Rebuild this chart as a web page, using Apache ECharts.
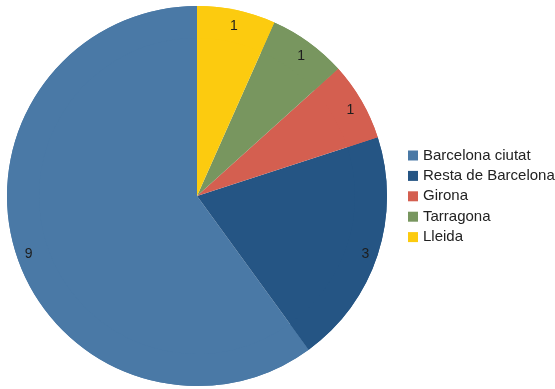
<!DOCTYPE html>
<html>
<head>
<meta charset="utf-8">
<script src="https://cdn.jsdelivr.net/npm/echarts@6/dist/echarts.min.js"></script>
<style>
  html, body { margin: 0; padding: 0; background: #ffffff; }
  #chart { width: 555px; height: 389px; }
</style>
</head>
<body>
<div id="chart"></div>
<script>
// Province categories and their counts
const categories = ['Barcelona ciutat', 'Resta de Barcelona', 'Girona', 'Tarragona', 'Lleida'];
const values = [9, 3, 1, 1, 1];
const colors = ['#4a79a6', '#255584', '#d45f50', '#78965f', '#fccb0f'];

const pieData = categories.map((name, i) => ({
  name: name,
  value: values[i],
  itemStyle: { color: colors[i] }
}));

const chart = echarts.init(document.getElementById('chart'), null, { renderer: 'canvas' });

const center = [197, 196];
const radius = 190;

chart.setOption({
  animation: false,
  backgroundColor: '#ffffff',
  textStyle: { fontFamily: '"Liberation Sans", Arial, sans-serif' },
  legend: {
    orient: 'vertical',
    left: 408,
    top: 147,
    padding: 0,
    itemWidth: 10,
    itemHeight: 10,
    itemGap: 3.4,
    icon: 'rect',
    data: categories,
    textStyle: {
      fontSize: 15,
      lineHeight: 17,
      color: '#222222',
      fontFamily: '"Liberation Sans", Arial, sans-serif'
    }
  },
  series: [
    {
      // filled slices
      type: 'pie',
      center: center,
      radius: [0, radius],
      startAngle: 90,
      clockwise: false,
      silent: true,
      label: { show: false },
      labelLine: { show: false },
      data: pieData
    },
    {
      // outer ring carrying the value labels near the rim
      type: 'pie',
      center: center,
      radius: [radius - 32, radius],
      startAngle: 90,
      clockwise: false,
      silent: true,
      label: {
        show: true,
        position: 'inside',
        formatter: '{c}',
        fontSize: 14,
        offset: [0, 3],
        color: '#1e1e1e',
        fontFamily: '"Liberation Sans", Arial, sans-serif'
      },
      labelLine: { show: false },
      data: pieData
    }
  ]
});
</script>
</body>
</html>
